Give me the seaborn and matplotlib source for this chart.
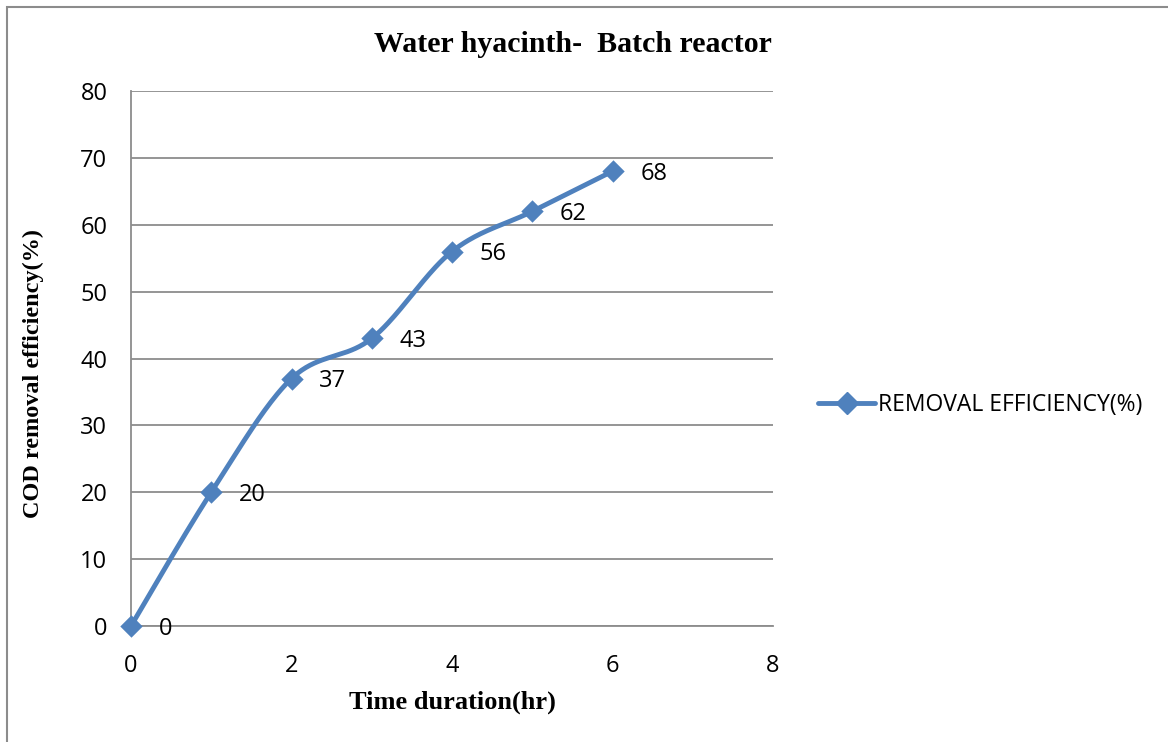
import numpy as np
import pandas as pd
import matplotlib
matplotlib.use("Agg")
import matplotlib.pyplot as plt
import seaborn as sns
from matplotlib.patches import Rectangle
from matplotlib.lines import Line2D

# ---- data ----
time_hr = [0, 1, 2, 3, 4, 5, 6]
removal_eff = [0, 20, 37, 43, 56, 62, 68]
x_ticks = [0, 2, 4, 6, 8]
y_ticks = [0, 10, 20, 30, 40, 50, 60, 70, 80]
series_name = "REMOVAL EFFICIENCY(%)"
title = "Water hyacinth-  Batch reactor"
xlabel = "Time duration(hr)"
ylabel = "COD removal efficiency(%)"

sns.set_theme(style="white")
plt.rcParams['font.family'] = ['Open Sans', 'DejaVu Sans']
plt.rcParams['text.color'] = 'black'
plt.rcParams['axes.labelcolor'] = 'black'

BLUE = "#4F81BD"
GRID = "#8C8C8C"

fig = plt.figure(figsize=(11.68, 7.42), dpi=100)
ax = fig.add_axes([131/1168, 1-626/742, (773-131)/1168, (626-91)/742])

# smoothed curve (Catmull-Rom, like Excel's smoothed line)
def smooth(xs, ys, n=40):
    P = np.column_stack([xs, ys]).astype(float)
    pts = []
    for i in range(len(P)-1):
        p0 = P[i-1] if i > 0 else P[i]
        p1 = P[i]
        p2 = P[i+1]
        p3 = P[i+2] if i+2 < len(P) else P[i+1]
        c1 = p1 + (p2 - p0)/6
        c2 = p2 - (p3 - p1)/6
        t = np.linspace(0, 1, n)[:, None]
        seg = (1-t)**3*p1 + 3*(1-t)**2*t*c1 + 3*(1-t)*t**2*c2 + t**3*p2
        pts.append(seg if i == 0 else seg[1:])
    return np.vstack(pts)

curve = smooth(time_hr, removal_eff)
df_curve = pd.DataFrame({"x": curve[:, 0], "y": curve[:, 1]})
sns.lineplot(data=df_curve, x="x", y="y", ax=ax, color=BLUE, linewidth=3.5,
             sort=False, estimator=None, legend=False, zorder=3, clip_on=False)
df = pd.DataFrame({"x": time_hr, "y": removal_eff})
sns.scatterplot(data=df, x="x", y="y", ax=ax, marker="D", s=130, color=BLUE,
                edgecolor=BLUE, linewidth=0, zorder=4, legend=False, clip_on=False)

for xv, yv in zip(time_hr, removal_eff):
    ax.annotate(str(yv), (xv, yv), xytext=(20, -2), textcoords="offset points",
                ha="left", va="center", fontsize=17, color="black")

ax.set_xlim(0, 8)
ax.set_ylim(0, 80)
ax.set_xticks(x_ticks)
ax.set_yticks(y_ticks)
ax.tick_params(axis="y", length=0, labelsize=17, colors="black", pad=17)
ax.tick_params(axis="x", length=0, labelsize=17, colors="black", pad=20)
ax.yaxis.grid(True, color=GRID, linewidth=1.3)
ax.xaxis.grid(False)
for s in ["top", "right"]:
    ax.spines[s].set_visible(False)
for s in ["left", "bottom"]:
    ax.spines[s].set_color(GRID)
    ax.spines[s].set_linewidth(1.3)

ax.set_xlabel(xlabel, fontsize=19, fontweight="bold", family="Liberation Serif",
              labelpad=9, color="black")
ax.set_ylabel(ylabel, fontsize=17.5, fontweight="bold", family="Liberation Serif",
              color="black", va="center", ha="center")
ax.yaxis.set_label_coords((33-131)/642, (626-373)/535)

fig.text(772/1168, 1-45/742, title, ha="right", va="center", fontsize=21.5,
         fontweight="bold", family="Liberation Serif", color="black")

h = Line2D([], [], color=BLUE, linewidth=3.5, marker="D", markersize=11)
fig.legend([h], [series_name], loc="center left", bbox_to_anchor=(818/1168, 1-405/742),
           frameon=False, fontsize=16.5, handlelength=2.5, handletextpad=0.1, borderpad=0,
           borderaxespad=0, labelcolor="black")

fig.patches.append(Rectangle((7/1168, -0.1), 1.2, 1-7/742+0.1, transform=fig.transFigure,
                             fill=False, edgecolor="#8C8C8C", linewidth=1.5))

fig.savefig("out.png", dpi=100)
